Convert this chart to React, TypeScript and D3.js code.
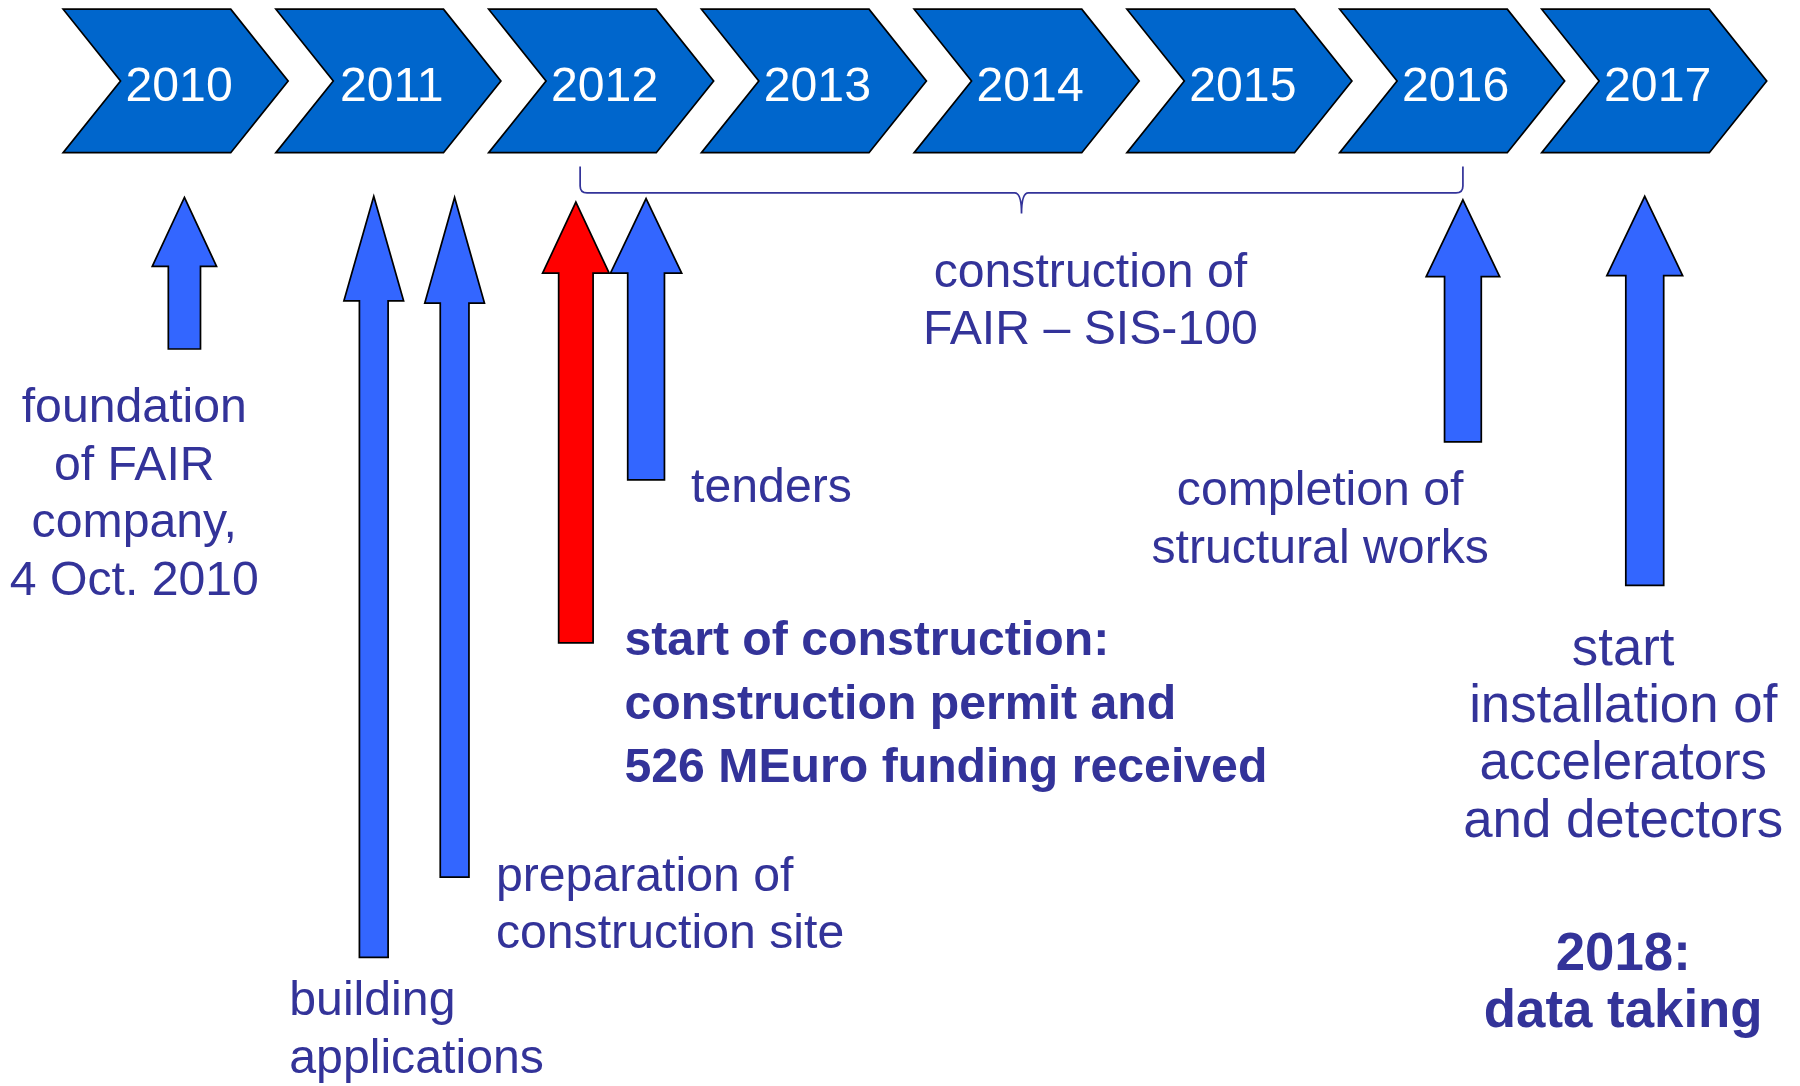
import * as d3 from "d3";

// timeline data
const years = [2010, 2011, 2012, 2013, 2014, 2015, 2016, 2017];
const eventTimes = [2010.57, 2011.46, 2011.84, 2012.41, 2012.74, 2016.61, 2017.51];
const milestone = [false, false, false, true, false, false, false];
const eventLabels = [
  ["foundation", "of FAIR", "company,", "4 Oct. 2010"],
  ["building", "applications"],
  ["preparation of", "construction site"],
  ["start of construction:", "construction permit and", "526 MEuro funding received"],
  ["tenders"],
  ["completion of", "structural works"],
  ["start", "installation of", "accelerators", "and detectors"],
];
const spanRange = [2012.43, 2016.61];
const spanLabel = ["construction of", "FAIR – SIS-100"];
const finalLabel = ["2018:", "data taking"];

// layout (viewBox units)
const W = 1568;
const H = 946;
const chevTop = 8;
const chevBot = 133;
const chevW = 196;
const notch = 50;

// arrow geometry: tip y, head base y, bottom y, head half width, shaft half width
const arrowGeom = [
  [172, 232, 304, 28, 14],
  [171, 262, 834, 26, 12.5],
  [172, 264, 764, 26, 12.5],
  [176, 238, 560, 29, 15],
  [173, 238, 418, 31, 16],
  [174, 241, 385, 32, 16],
  [171, 240, 510, 33, 16.5],
];

// label placement: anchor, x, first baseline, line gap, font size
const labelPos: [string, number, number, number, number][] = [
  ["middle", 117, 368, 50, 42],
  ["start", 252, 884, 51, 42],
  ["start", 432, 776, 50, 42],
  ["start", 544, 571, 55, 42],
  ["start", 602, 437, 50, 42],
  ["middle", 1150, 440, 50, 42],
  ["middle", 1414, 579, 50, 46],
];

const FONT = "'Liberation Sans', Arial, sans-serif";
const TEXT = "#333399";

const x = d3.scaleLinear().domain([2010, 2016, 2017, 2018]).range([55, 1167, 1343, 1519]);

function chevron(left: number) {
  const mid = (chevTop + chevBot) / 2;
  const p = d3.path();
  p.moveTo(left, chevTop);
  p.lineTo(left + chevW - notch, chevTop);
  p.lineTo(left + chevW, mid);
  p.lineTo(left + chevW - notch, chevBot);
  p.lineTo(left, chevBot);
  p.lineTo(left + notch, mid);
  p.closePath();
  return p.toString();
}

function arrow(cx: number, g: number[]) {
  const [tip, base, bottom, hh, sh] = g;
  const p = d3.path();
  p.moveTo(cx, tip);
  p.lineTo(cx + hh, base);
  p.lineTo(cx + sh, base);
  p.lineTo(cx + sh, bottom);
  p.lineTo(cx - sh, bottom);
  p.lineTo(cx - sh, base);
  p.lineTo(cx - hh, base);
  p.closePath();
  return p.toString();
}

function brace(x0: number, x1: number) {
  const top = 145, y = 168, r = 6, dip = 186;
  const c = (x0 + x1) / 2;
  const p = d3.path();
  p.moveTo(x0, top);
  p.lineTo(x0, y - r);
  p.quadraticCurveTo(x0, y, x0 + r, y);
  p.lineTo(c - 6, y);
  p.quadraticCurveTo(c, y, c, dip);
  p.quadraticCurveTo(c, y, c + 6, y);
  p.lineTo(x1 - r, y);
  p.quadraticCurveTo(x1, y, x1, y - r);
  p.lineTo(x1, top);
  return p.toString();
}

function Lines({ lines, anchor, x0, y0, gap, bold, size = 42 }: any) {
  return (
    <text
      textAnchor={anchor}
      fontFamily={FONT}
      fontSize={size}
      fontWeight={bold ? "bold" : "normal"}
      fill={TEXT}
    >
      {lines.map((l: string, i: number) => (
        <tspan key={i} x={x0} y={y0 + i * gap}>
          {l}
        </tspan>
      ))}
    </text>
  );
}

export default function App() {
  const [s0, s1] = spanRange.map(x);
  return (
    <svg
      width={1800}
      height={1086}
      viewBox={`0 0 ${W} ${H}`}
      style={{ position: "absolute", left: 0, top: 0, display: "block", background: "#fff" }}
    >
      {years.map((yr) => (
        <g key={yr}>
          <path d={chevron(x(yr))} fill="#0066CC" stroke="#000" strokeWidth={1.5} strokeLinejoin="miter" />
          <text
            x={x(yr) + 101}
            y={88}
            textAnchor="middle"
            fontFamily={FONT}
            fontSize={42}
            fill="#fff"
          >
            {yr}
          </text>
        </g>
      ))}

      <path d={brace(s0, s1)} fill="none" stroke={TEXT} strokeWidth={1.5} />
      <Lines lines={spanLabel} anchor="middle" x0={(s0 + s1) / 2 + 60} y0={250} gap={50} />

      {eventTimes.map((t, i) => (
        <path
          key={i}
          d={arrow(x(t), arrowGeom[i])}
          fill={milestone[i] ? "#FF0000" : "#3366FF"}
          stroke="#000"
          strokeWidth={1.5}
        />
      ))}

      {eventLabels.map((lines, i) => {
        const [anchor, lx, ly, gap, size] = labelPos[i];
        return (
          <Lines key={i} lines={lines} anchor={anchor} x0={lx} y0={ly} gap={gap} size={size} bold={milestone[i]} />
        );
      })}

      <Lines lines={finalLabel} anchor="middle" x0={1414} y0={845} gap={50} size={46} bold />
    </svg>
  );
}
